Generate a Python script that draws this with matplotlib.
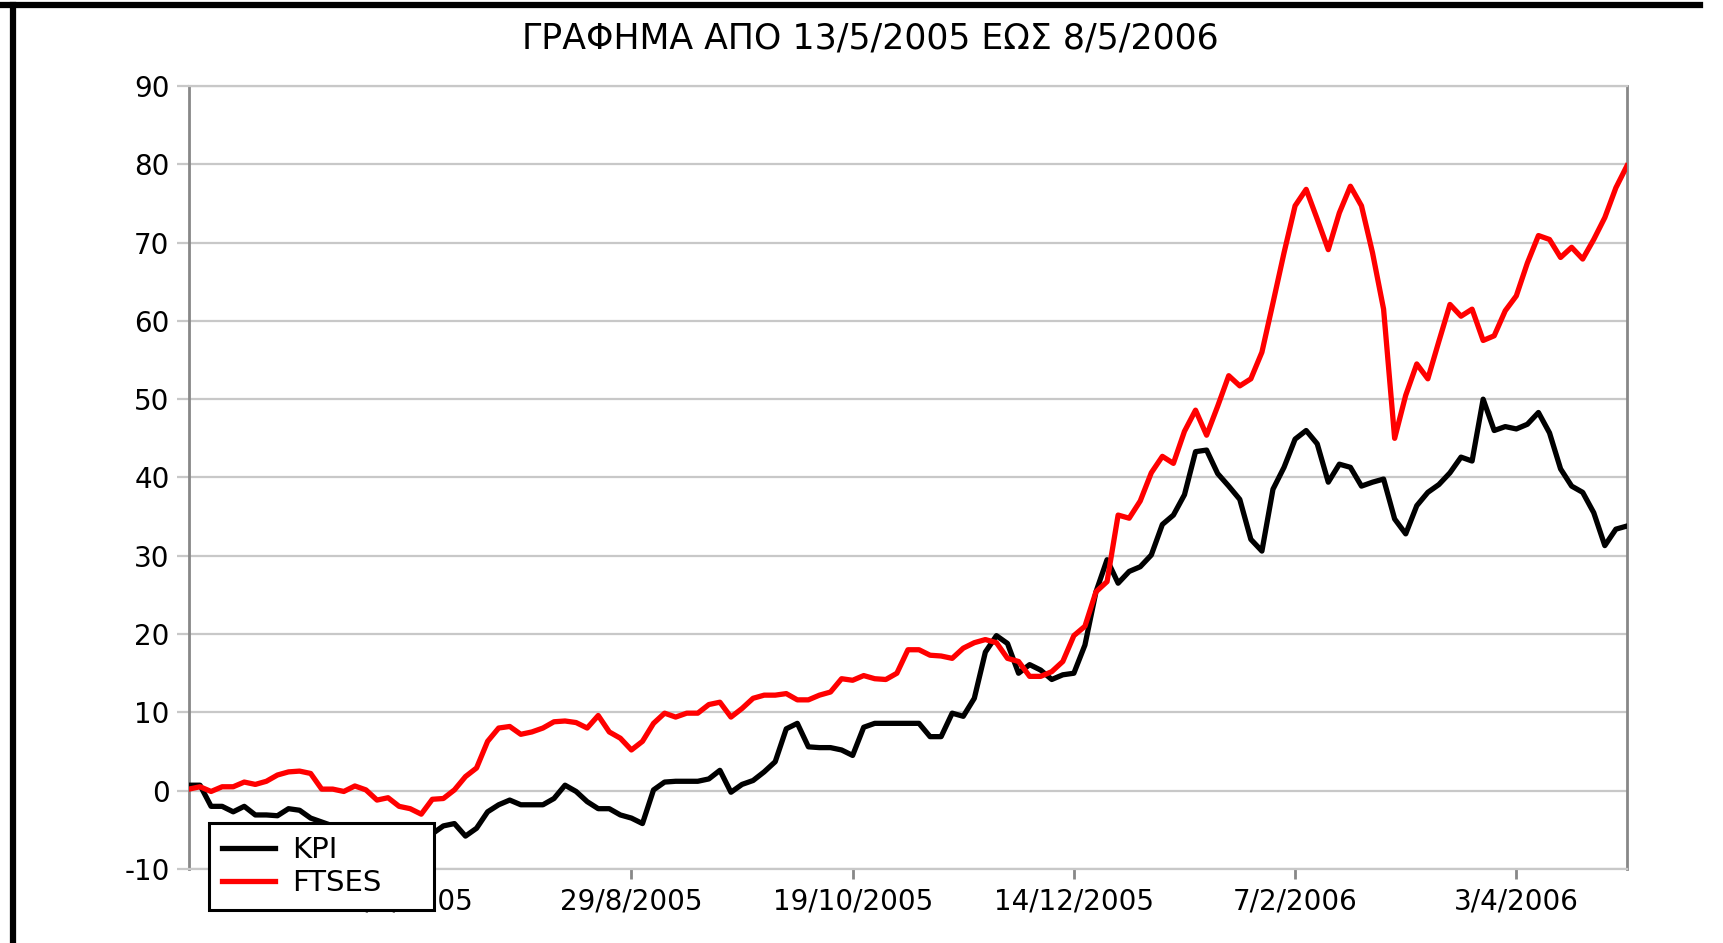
import matplotlib
matplotlib.use('Agg')
import matplotlib.pyplot as plt
from matplotlib.lines import Line2D
import numpy as np

# sampled every ~2 trading days, 13/5/2005 .. 8/5/2006
kpi = [0.7, 0.7, -2.0, -2.0, -2.7, -2.0, -3.1, -3.1, -3.2, -2.3,
       -2.5, -3.5, -4.0, -4.5, -4.5, -5.0, -4.5, -4.5, -5.0, -5.5,
       -5.5, -5.0, -5.5, -4.5, -4.2, -5.8, -4.8, -2.7, -1.8, -1.2,
       -1.8, -1.8, -1.8, -1.0, 0.7, -0.1, -1.4, -2.3, -2.3, -3.1,
       -3.5, -4.2, 0.1, 1.1, 1.2, 1.2, 1.2, 1.5, 2.6, -0.2,
       0.8, 1.3, 2.4, 3.7, 7.9, 8.6, 5.6, 5.5, 5.5, 5.2,
       4.5, 8.1, 8.6, 8.6, 8.6, 8.6, 8.6, 6.9, 6.9, 9.9,
       9.5, 11.8, 17.7, 19.8, 18.8, 15.0, 16.1, 15.4, 14.2, 14.8,
       15.0, 18.6, 25.4, 29.5, 26.5, 28.0, 28.6, 30.1, 34.0, 35.2,
       37.8, 43.3, 43.5, 40.5, 38.9, 37.2, 32.1, 30.6, 38.5, 41.3,
       44.9, 46.0, 44.3, 39.4, 41.7, 41.3, 38.9, 39.4, 39.8, 34.7,
       32.8, 36.4, 38.1, 39.1, 40.6, 42.6, 42.1, 50.0, 46.0, 46.5,
       46.2, 46.8, 48.3, 45.7, 41.1, 38.9, 38.1, 35.5, 31.3, 33.4,
       33.8]

ftses = [0.2, 0.5, -0.1, 0.5, 0.5, 1.1, 0.8, 1.2, 2.0, 2.4,
         2.5, 2.2, 0.2, 0.2, -0.1, 0.6, 0.1, -1.2, -0.9, -2.0,
         -2.3, -3.0, -1.1, -1.0, 0.1, 1.8, 2.9, 6.3, 8.0, 8.2,
         7.2, 7.5, 8.0, 8.8, 8.9, 8.7, 8.0, 9.6, 7.5, 6.7,
         5.2, 6.3, 8.6, 9.9, 9.4, 9.9, 9.9, 11.0, 11.3, 9.4,
         10.5, 11.8, 12.2, 12.2, 12.4, 11.6, 11.6, 12.2, 12.6, 14.3,
         14.1, 14.7, 14.3, 14.2, 15.0, 18.0, 18.0, 17.3, 17.2, 16.9,
         18.2, 18.9, 19.3, 18.9, 16.9, 16.5, 14.6, 14.6, 15.2, 16.5,
         19.8, 21.0, 25.4, 26.7, 35.2, 34.8, 37.0, 40.6, 42.7, 41.8,
         45.9, 48.6, 45.4, 49.1, 53.0, 51.7, 52.6, 56.0, 62.3, 68.7,
         74.7, 76.8, 73.0, 69.1, 73.8, 77.2, 74.7, 68.7, 61.5, 45.0,
         50.5, 54.5, 52.6, 57.4, 62.1, 60.6, 61.5, 57.5, 58.1, 61.3,
         63.2, 67.4, 70.9, 70.4, 68.1, 69.4, 67.9, 70.4, 73.2, 77.0,
         79.8]

tick_pos = [20, 40, 60, 80, 100, 120]
tick_labels = ['6/7/2005', '29/8/2005', '19/10/2005', '14/12/2005',
               '7/2/2006', '3/4/2006']

plt.rcParams['font.family'] = ['DejaVu Sans']
plt.rcParams['axes.unicode_minus'] = False

fig = plt.figure(figsize=(17.24, 9.43), dpi=100)
ax = fig.add_axes([0.1096, 0.0785, 0.8341, 0.8303])

x = np.arange(len(kpi))
ax.plot(x, kpi, color='black', lw=3.8, label='KPI', zorder=3)
ax.plot(x, ftses, color='#ff0000', lw=3.8, label='FTSES', zorder=3)

ax.set_xlim(0, len(kpi) - 1)
ax.set_ylim(-10, 90)
ax.set_yticks(range(-10, 91, 10))
ax.grid(axis='y', color='#c8c8c8', lw=1.6, zorder=0)
ax.set_axisbelow(True)

ax.set_xticks(tick_pos)
ax.set_xticklabels(tick_labels, fontsize=20)
ax.tick_params(axis='x', direction='out', length=7, width=2,
               color='#888888', pad=6)
ax.tick_params(axis='y', direction='out', length=9, width=1.6,
               color='#c8c8c8', pad=5, labelsize=20)

for side in ['left', 'right']:
    ax.spines[side].set_color('#888888')
    ax.spines[side].set_linewidth(2)
for side in ['top', 'bottom']:
    ax.spines[side].set_color('#c8c8c8')
    ax.spines[side].set_linewidth(1.6)

fig.text(0.505, 0.959, 'ΓΡΑΦΗΜΑ ΑΠΟ 13/5/2005 ΕΩΣ 8/5/2006',
         ha='center', va='center', fontsize=25)

# legend box sits over the first date label, as in the original
leg = ax.legend(loc='lower left', bbox_to_anchor=(209 / 1724, 33 / 943, 225 / 1724, 0.1),
                bbox_transform=fig.transFigure, mode='expand', borderaxespad=0,
                fontsize=21, handlelength=1.8, handletextpad=0.6,
                borderpad=0.45, labelspacing=0.15, fancybox=False,
                framealpha=1, edgecolor='black')
leg.get_frame().set_linewidth(2.2)
leg.set_zorder(10)

# outer frame (top and left edges)
fig.add_artist(Line2D([0, 0.986], [0.9942, 0.9942], color='black', lw=4.5,
                      transform=fig.transFigure))
fig.add_artist(Line2D([0.0078, 0.0078], [0, 0.9942], color='black', lw=4.5,
                      transform=fig.transFigure))

fig.savefig('out.png', dpi=100, facecolor='white')
